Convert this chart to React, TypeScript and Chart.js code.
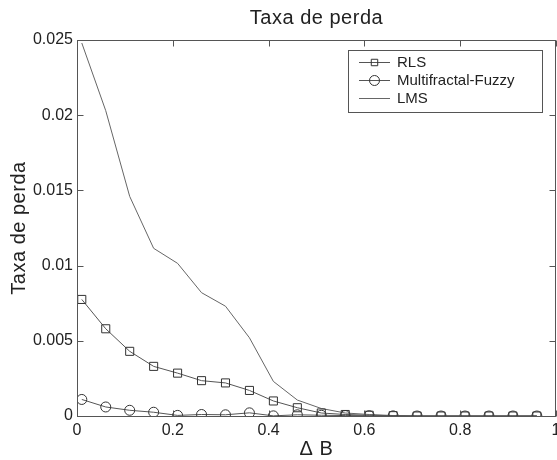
import React, { useEffect, useRef } from "react";
import { Chart, registerables } from "chart.js";

Chart.register(...registerables);

const xValues = [0.01, 0.06, 0.11, 0.16, 0.21, 0.26, 0.31, 0.36, 0.41, 0.46, 0.51, 0.56, 0.61, 0.66, 0.71, 0.76, 0.81, 0.86, 0.91, 0.96];
const rlsValues = [0.00775, 0.0058, 0.0043, 0.0033, 0.00285, 0.00235, 0.0022, 0.0017, 0.001, 0.00055, 0.0002, 0.0001, 0.00005, 0.00002, 0, 0, 0, 0, 0, 0];
const mfValues = [0.0011, 0.0006, 0.00038, 0.00025, 0.00004, 0.0001, 0.00008, 0.00021, 0.00001, 0.00008, 0.00005, 0.00003, 0.00002, 0.00001, 0, 0, 0, 0, 0, 0];
const lmsValues = [0.0248, 0.0203, 0.0146, 0.01115, 0.01015, 0.0082, 0.0073, 0.0052, 0.0023, 0.00106, 0.0005, 0.0002, 0.0001, 0.00003, 0, 0, 0, 0, 0, 0];
const xTickValues = [0, 0.2, 0.4, 0.6, 0.8, 1];
const seriesNames = ["RLS", "Multifractal-Fuzzy", "LMS"];
const titleText = "Taxa de perda";
const yTitleText = "Taxa de perda";
const xTitleText = "\u0394 B";

const FONT = "Liberation Sans, Arial, Helvetica, sans-serif";
const AXIS = "#555";
const TEXT = "#222";

const toPts = (ys: number[]) => xValues.map((x, i) => ({ x, y: ys[i] }));
const fmtX = (v: number) => String(+Number(v).toFixed(1));

const decorPlugin = {
  id: "decor",
  afterDraw(chart: any) {
    const { ctx, chartArea: a, scales } = chart;
    const xs = scales.x;
    const ys = scales.y;
    ctx.save();
    ctx.strokeStyle = AXIS;
    ctx.lineWidth = 1;
    const tl = 6;
    const L = Math.round(a.left) + 0.5;
    const R = Math.round(a.right) - 0.5;
    const T = Math.round(a.top) + 0.5;
    const B = Math.round(a.bottom) + 0.5;
    ctx.beginPath();
    xTickValues.forEach((v) => {
      const px = Math.round(xs.getPixelForValue(v)) + 0.5;
      ctx.moveTo(px, B);
      ctx.lineTo(px, B - tl);
      ctx.moveTo(px, T);
      ctx.lineTo(px, T + tl);
    });
    ys.ticks.forEach((t: any) => {
      const py = Math.round(ys.getPixelForValue(t.value)) + 0.5;
      ctx.moveTo(L, py);
      ctx.lineTo(L + tl, py);
      ctx.moveTo(R, py);
      ctx.lineTo(R - tl, py);
    });
    ctx.stroke();
    ctx.strokeRect(L, T, R - L, B - T);

    // x tick labels
    ctx.fillStyle = TEXT;
    ctx.font = `16px ${FONT}`;
    ctx.textAlign = "center";
    ctx.textBaseline = "middle";
    xTickValues.forEach((v) => {
      ctx.fillText(fmtX(v), xs.getPixelForValue(v), a.bottom + 15);
    });

    // titles
    ctx.font = `20px ${FONT}`;
    try { (ctx as any).letterSpacing = "0.5px"; } catch (e) {}
    const cx = (a.left + a.right) / 2;
    ctx.fillText(titleText, cx, 18);
    ctx.fillText(xTitleText, cx, 449);
    ctx.save();
    ctx.translate(19, 228);
    ctx.rotate(-Math.PI / 2);
    ctx.fillText(yTitleText, 0, 0);
    ctx.restore();
    try { (ctx as any).letterSpacing = "0px"; } catch (e) {}

    // legend
    const bx = 348, by = 50, bw = 194, bh = 62;
    ctx.fillStyle = "#fff";
    ctx.fillRect(bx, by, bw, bh);
    ctx.strokeStyle = AXIS;
    ctx.strokeRect(bx + 0.5, by + 0.5, bw, bh);
    const rows = [62, 80, 98];
    chart.data.datasets.forEach((ds: any, i: number) => {
      const y = rows[i] + 0.5;
      ctx.strokeStyle = ds.borderColor;
      ctx.lineWidth = 1;
      ctx.beginPath();
      ctx.moveTo(359, y);
      ctx.lineTo(390, y);
      ctx.stroke();
      const r = ds.pointRadius;
      if (r > 0) {
        ctx.strokeStyle = ds.pointBorderColor;
        ctx.fillStyle = "#fff";
        ctx.beginPath();
        if (ds.pointStyle === "rect") {
          const s = Math.SQRT1_2 * r * 0.8;
          ctx.rect(374.5 - s, y - s, 2 * s, 2 * s);
        } else {
          ctx.arc(374.5, y, r, 0, Math.PI * 2);
        }
        ctx.stroke();
      }
      ctx.fillStyle = TEXT;
      ctx.font = `15px ${FONT}`;
      ctx.textAlign = "left";
      ctx.textBaseline = "middle";
      ctx.fillText(ds.label, 397, rows[i] + 1);
    });
    ctx.restore();
  },
};

export default function App() {
  const ref = useRef<HTMLCanvasElement | null>(null);
  useEffect(() => {
    document.body.style.margin = "0";
    const el = ref.current;
    if (!el) return;
    const chart = new Chart(el, {
      type: "line",
      data: {
        datasets: [
          {
            label: seriesNames[0],
            data: toPts(rlsValues),
            borderColor: "#555",
            borderWidth: 1,
            pointStyle: "rect",
            pointRadius: 5.7,
            pointBorderColor: "#333",
            pointBackgroundColor: "rgba(0,0,0,0)",
            pointBorderWidth: 1,
          },
          {
            label: seriesNames[1],
            data: toPts(mfValues),
            borderColor: "#555",
            borderWidth: 1,
            pointStyle: "circle",
            pointRadius: 5,
            pointBorderColor: "#333",
            pointBackgroundColor: "rgba(0,0,0,0)",
            pointBorderWidth: 1,
          },
          {
            label: seriesNames[2],
            data: toPts(lmsValues),
            borderColor: "#666",
            borderWidth: 1,
            pointRadius: 0,
          },
        ],
      },
      options: {
        animation: false,
        responsive: false,
        maintainAspectRatio: false,
        layout: { autoPadding: false, padding: { top: 40, right: 1, left: 0, bottom: 0 } },
        plugins: { legend: { display: false }, title: { display: false }, tooltip: { enabled: false } },
        scales: {
          x: {
            type: "linear",
            min: 0,
            max: 1,
            grid: { display: false, drawTicks: false, tickLength: 0 },
            border: { display: false },
            ticks: { stepSize: 0.2, display: false },
            afterFit: (s: any) => { s.height = 44; s.paddingLeft = 0; s.paddingRight = 0; },
          },
          y: {
            type: "linear",
            min: 0,
            max: 0.025,
            grid: { display: false, drawTicks: false, tickLength: 0 },
            border: { display: false },
            ticks: {
              stepSize: 0.005,
              color: TEXT,
              padding: 4,
              font: { family: FONT, size: 16 },
              callback: (v: any) => String(+Number(v).toFixed(3)),
            },
            afterFit: (s: any) => { s.width = 77; s.paddingTop = 0; s.paddingBottom = 0; },
          },
        },
      },
      plugins: [decorPlugin],
    });
    return () => chart.destroy();
  }, []);
  return (
    <div style={{ width: 557, height: 460, position: "relative" }}>
      <canvas ref={ref} width={557} height={460} style={{ width: 557, height: 460, display: "block" }} />
    </div>
  );
}
